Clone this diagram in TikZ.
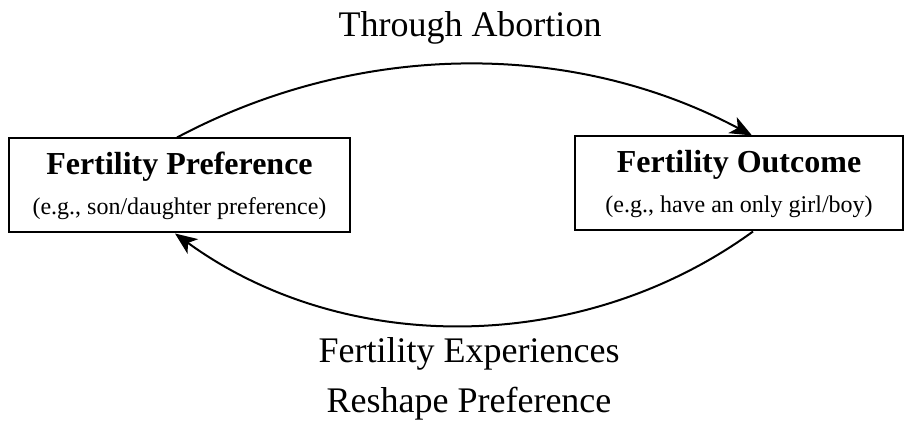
\documentclass[tikz,border=0pt]{standalone}
\usepackage{fontspec}
\setmainfont{Liberation Serif}
\usetikzlibrary{arrows.meta}

\begin{document}
\begin{tikzpicture}[>={Stealth[length=11pt,width=9pt,inset=3pt]},x=0.5pt,y=0.5pt]
  \tikzset{
    box/.style={draw,line width=1pt,inner sep=0pt,minimum height=47pt,align=center},
    lbl/.style={font=\fontsize{18}{21}\selectfont,anchor=base},
    flow/.style={->,line width=1pt}
  }
  \useasboundingbox (0,0) rectangle (904,427);

  \node[box,minimum width=170.5pt] (pref) at (179.5,241.5)
    {{\fontsize{16}{19}\selectfont\bfseries Fertility Preference}\\[8pt]
     {\fontsize{12}{14}\selectfont (e.g., son/daughter preference)}};
  \node[box,minimum width=164pt] (outc) at (739,243.5)
    {{\fontsize{16}{19}\selectfont\bfseries Fertility Outcome}\\[8pt]
     {\fontsize{12}{14}\selectfont (e.g., have an only girl/boy)}};

  \node[lbl] (abort) at (470,390) {Through Abortion};
  \node[lbl] (exper) at (469,64) {Fertility Experiences};
  \node[lbl] (reshp) at (469,14) {Reshape Preference};

  % the two feedback arcs
  \draw[flow] ([xshift=-1.25pt]pref.north) to[out=28,in=152,looseness=0.91]
    ([xshift=6.5pt]outc.north);
  \draw[flow] ([xshift=7pt]outc.south) to[out=-144,in=-36,looseness=0.93]
    ([xshift=-2.25pt]pref.south);
\end{tikzpicture}
\end{document}
